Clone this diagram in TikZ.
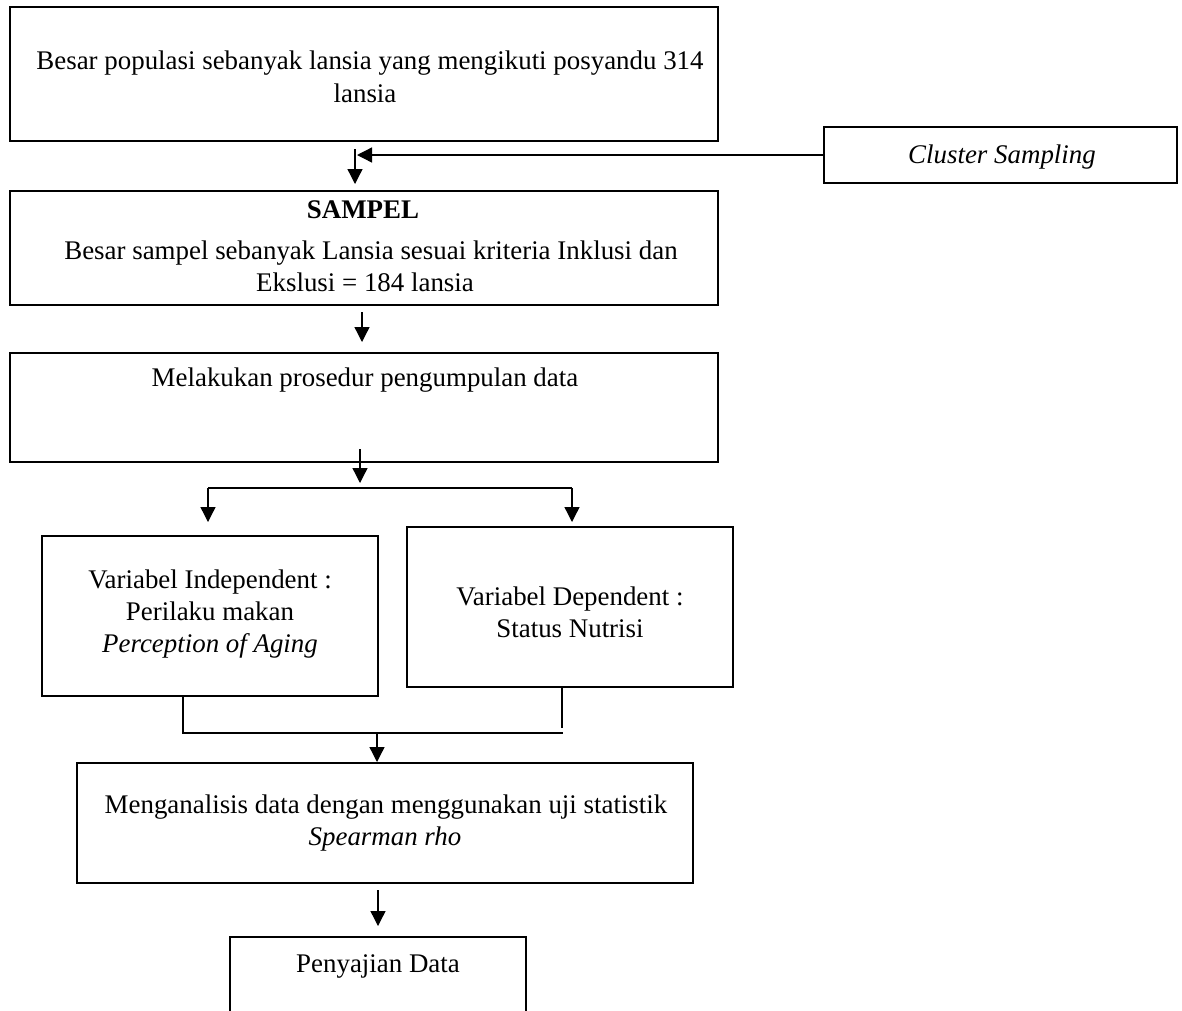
\documentclass[tikz,border=0pt]{standalone}
\usepackage{fontspec}
\setmainfont{Liberation Serif}
\usetikzlibrary{arrows.meta}
\tikzset{
  box/.style={draw, line width=2.2pt, rectangle, inner sep=0pt},
  conn/.style={line width=1.3pt},
  arr/.style={conn, -{Triangle[width=15pt,length=15pt]}},
  txt/.style={anchor=base, inner sep=0pt, font=\fontsize{26.9}{32}\selectfont}
}
\begin{document}
\begin{tikzpicture}[x=1pt,y=-1pt]
\useasboundingbox (0,0) rectangle (1182,1010);
% boxes
\node[box, minimum width=708pt, minimum height=134pt] (b1) at (364,74) {};
\node[box, minimum width=353pt, minimum height=56pt] (cs) at (1000.5,155) {};
\node[box, minimum width=708pt, minimum height=114pt] (b2) at (364,248) {};
\node[box, minimum width=708pt, minimum height=109pt] (b3) at (364,407.5) {};
\node[box, minimum width=336pt, minimum height=160pt] (b4) at (210,616) {};
\node[box, minimum width=326pt, minimum height=160pt] (b5) at (570,607) {};
\node[box, minimum width=616pt, minimum height=120pt] (b6) at (385,823) {};
\node[box, minimum width=296pt, minimum height=90pt] (b7) at (378,982) {};
% texts
\node[txt] (t1a) at (370,69) {Besar populasi sebanyak lansia yang mengikuti posyandu 314};
\node[txt] (t1b) at (365,102) {lansia};
\node[txt] (tcs) at (1002,163) {\itshape Cluster Sampling};
\node[txt] (t2a) at (363,218) {\bfseries SAMPEL};
\node[txt] (t2b) at (371,259) {Besar sampel sebanyak Lansia sesuai kriteria Inklusi dan};
\node[txt] (t2c) at (365,291) {Ekslusi = 184 lansia};
\node[txt] (t3) at (365,386) {Melakukan prosedur pengumpulan data};
\node[txt] (t4a) at (210,588) {Variabel Independent :};
\node[txt] (t4b) at (210,620) {Perilaku makan};
\node[txt] (t4c) at (210,652) {\itshape Perception of Aging};
\node[txt] (t5a) at (570,605) {Variabel Dependent :};
\node[txt] (t5b) at (570,637) {Status Nutrisi};
\node[txt] (t6a) at (386,813) {Menganalisis data dengan menggunakan uji statistik};
\node[txt] (t6b) at (385,845) {\itshape Spearman rho};
\node[txt] (t7) at (378,972) {Penyajian Data};
% connector coordinates
\coordinate (h1) at (357,155);
\coordinate (v1s) at (355,149);
\coordinate (v1e) at (355,184);
\coordinate (v2s) at (362,312);
\coordinate (v2e) at (362,342);
\coordinate (v3s) at (360,449);
\coordinate (v3e) at (360,483);
\coordinate (brl) at (208,488);
\coordinate (brr) at (572,488);
\coordinate (brle) at (208,522);
\coordinate (brre) at (572,522);
\coordinate (jl) at (183,696);
\coordinate (jr) at (562,687);
\coordinate (jls) at (183,733);
\coordinate (jrs) at (563,733);
\coordinate (jre) at (562,728);
\coordinate (v4s) at (377,733);
\coordinate (v4e) at (377,762);
\coordinate (v5s) at (378,890);
\coordinate (v5e) at (378,926);
% connectors
\draw[arr] (cs.west) -- (h1);
\draw[arr] (v1s) -- (v1e);
\draw[arr] (v2s) -- (v2e);
\draw[arr] (v3s) -- (v3e);
\draw[conn] (brl) -- (brr);
\draw[arr] (brl) -- (brle);
\draw[arr] (brr) -- (brre);
\draw[conn] (jl) -- (jls) -- (jrs);
\draw[conn] (jr) -- (jre);
\draw[arr] (v4s) -- (v4e);
\draw[arr] (v5s) -- (v5e);
\end{tikzpicture}
\end{document}
